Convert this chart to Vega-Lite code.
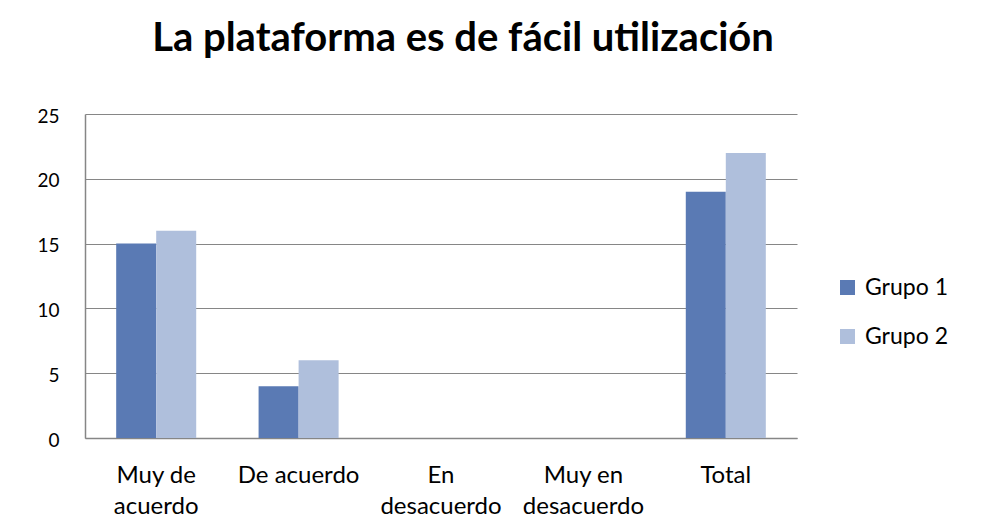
{
  "$schema": "https://vega.github.io/schema/vega-lite/v6.json",
  "autosize": {"type": "none"},
  "padding": {"left": 85, "top": 114, "right": 185, "bottom": 94},
  "width": 712,
  "height": 324,
  "background": "white",
  "title": {
    "text": "La plataforma es de fácil utilización",
    "font": "Lato",
    "fontSize": 40,
    "fontWeight": "bold",
    "color": "#000000",
    "anchor": "middle",
    "baseline": "alphabetic",
    "dx": 22,
    "offset": 16
  },
  "data": {
    "values": [
      {"categoria": "Muy de acuerdo", "grupo": "Grupo 1", "valor": 15},
      {"categoria": "Muy de acuerdo", "grupo": "Grupo 2", "valor": 16},
      {"categoria": "De acuerdo", "grupo": "Grupo 1", "valor": 4},
      {"categoria": "De acuerdo", "grupo": "Grupo 2", "valor": 6},
      {"categoria": "En desacuerdo", "grupo": "Grupo 1", "valor": 0},
      {"categoria": "En desacuerdo", "grupo": "Grupo 2", "valor": 0},
      {"categoria": "Muy en desacuerdo", "grupo": "Grupo 1", "valor": 0},
      {"categoria": "Muy en desacuerdo", "grupo": "Grupo 2", "valor": 0},
      {"categoria": "Total", "grupo": "Grupo 1", "valor": 19},
      {"categoria": "Total", "grupo": "Grupo 2", "valor": 22}
    ]
  },
  "mark": {"type": "bar"},
  "encoding": {
    "x": {
      "field": "categoria",
      "type": "nominal",
      "sort": ["Muy de acuerdo", "De acuerdo", "En desacuerdo", "Muy en desacuerdo", "Total"],
      "scale": {"paddingInner": 0.438, "paddingOuter": 0.219},
      "axis": {
        "title": null,
        "labelAngle": 0,
        "labelFont": "Lato",
        "labelFontSize": 24,
        "labelColor": "#000000",
        "labelPadding": 44,
        "labelLineHeight": 31,
        "labelBaseline": "alphabetic",
        "ticks": false,
        "domainColor": "#868686",
        "domainWidth": 1.5,
        "grid": false,
        "labelExpr": "datum.value == 'Muy de acuerdo' ? ['Muy de', 'acuerdo'] : datum.value == 'En desacuerdo' ? ['En', 'desacuerdo'] : datum.value == 'Muy en desacuerdo' ? ['Muy en', 'desacuerdo'] : datum.value"
      }
    },
    "xOffset": {
      "field": "grupo",
      "type": "nominal",
      "scale": {"paddingInner": 0, "paddingOuter": 0}
    },
    "y": {
      "field": "valor",
      "type": "quantitative",
      "scale": {"domain": [0, 25]},
      "axis": {
        "title": null,
        "values": [0, 5, 10, 15, 20, 25],
        "labelFont": "Lato",
        "labelFontSize": 19,
        "labelColor": "#000000",
        "labelPadding": 26,
        "labelOffset": 2,
        "ticks": false,
        "domainColor": "#868686",
        "domainWidth": 1.5,
        "gridColor": "#868686",
        "gridWidth": 1
      }
    },
    "color": {
      "field": "grupo",
      "type": "nominal",
      "scale": {"domain": ["Grupo 1", "Grupo 2"], "range": ["#5A7AB4", "#AFBFDC"]},
      "legend": {
        "title": null,
        "orient": "none",
        "legendX": 751,
        "legendY": 162,
        "symbolType": "square",
        "symbolSize": 225,
        "symbolStrokeWidth": 0,
        "labelFont": "Lato",
        "labelFontSize": 23,
        "labelColor": "#000000",
        "labelOffset": 6,
        "rowPadding": 25
      }
    }
  },
  "config": {
    "view": {"stroke": null},
    "bar": {"stroke": null}
  }
}
